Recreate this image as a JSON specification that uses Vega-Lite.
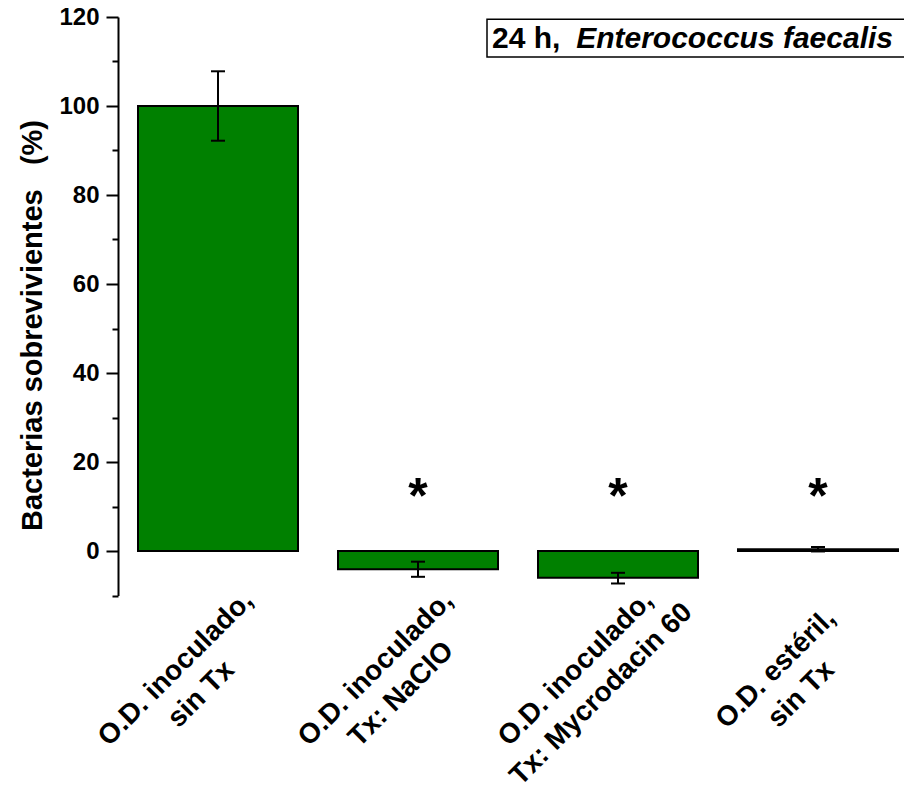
{
  "$schema": "https://vega.github.io/schema/vega-lite/v6.json",
  "width": 800,
  "height": 578.5,
  "autosize": {"type": "none"},
  "padding": {"left": 118, "top": 17, "right": 0, "bottom": 200},
  "background": "white",
  "config": {"view": {"stroke": null}, "font": "Liberation Sans"},
  "data": {
    "values": [
      {"cat": "O.D. inoculado,|sin Tx", "v": 100, "lo": 92.2, "hi": 107.8, "star": ""},
      {"cat": "O.D. inoculado,|Tx: NaClO", "v": -4.1, "lo": -5.8, "hi": -2.4, "star": "*"},
      {"cat": "O.D. inoculado,|Tx: Mycrodacin 60", "v": -6.0, "lo": -7.3, "hi": -4.9, "star": "*"},
      {"cat": "O.D. estéril,|sin Tx", "v": 0.4, "lo": -0.1, "hi": 0.9, "star": "*"}
    ]
  },
  "encoding": {
    "x": {
      "field": "cat",
      "type": "nominal",
      "sort": null,
      "scale": {
        "domain": ["O.D. inoculado,|sin Tx", "O.D. inoculado,|Tx: NaClO", "O.D. inoculado,|Tx: Mycrodacin 60", "O.D. estéril,|sin Tx"],
        "paddingInner": 0.2,
        "paddingOuter": 0.1
      },
      "axis": {
        "title": null,
        "domain": false,
        "ticks": false,
        "labelAngle": -45,
        "labelAlign": "center",
        "labelBaseline": "middle",
        "labelOffset": -42,
        "labelPadding": 73,
        "labelExpr": "split(datum.label, '|')",
        "labelFontSize": 28,
        "labelFontWeight": "bold",
        "labelColor": "black",
        "labelLineHeight": 36,
        "labelLimit": 0,
        "labelOverlap": false,
        "labelBound": false,
        "labelFlush": false
      }
    }
  },
  "layer": [
    {
      "mark": {"type": "bar", "fill": "#008000", "stroke": "black", "strokeWidth": 2},
      "encoding": {
        "y": {
          "field": "v",
          "type": "quantitative",
          "scale": {"domain": [-10, 120], "nice": false, "zero": false},
          "axis": {
            "values": [-10, 0, 10, 20, 30, 40, 50, 60, 70, 80, 90, 100, 110, 120],
            "labelExpr": "datum.value >= 0 && datum.value % 20 === 0 ? datum.label : ''",
            "tickSize": {"condition": {"test": "datum.value % 20 === 0", "value": 12}, "value": 6},
            "tickWidth": 2,
            "tickColor": "black",
            "domainWidth": 2,
            "domainColor": "black",
            "grid": false,
            "labelFontSize": 24,
            "labelFontWeight": "bold",
            "labelColor": "black",
            "labelPadding": 7,
            "title": "Bacterias sobrevivientes\u00a0\u00a0\u00a0(%)",
            "titleFontSize": 29,
            "titleFontWeight": "bold",
            "titleColor": "black",
            "titlePadding": 11,
            "titleY": 308
          }
        }
      }
    },
    {
      "mark": {"type": "rule", "stroke": "black", "strokeWidth": 2},
      "encoding": {"y": {"datum": 0}}
    },
    {
      "mark": {"type": "rule", "stroke": "black", "strokeWidth": 2},
      "encoding": {
        "y": {"field": "lo", "type": "quantitative"},
        "y2": {"field": "hi"}
      }
    },
    {
      "mark": {"type": "tick", "orient": "horizontal", "size": 14, "thickness": 2, "color": "black", "opacity": 1},
      "encoding": {"y": {"field": "lo", "type": "quantitative"}}
    },
    {
      "mark": {"type": "tick", "orient": "horizontal", "size": 14, "thickness": 2, "color": "black", "opacity": 1},
      "encoding": {"y": {"field": "hi", "type": "quantitative"}}
    },
    {
      "mark": {"type": "text", "fontSize": 50, "fontWeight": "bold", "color": "black", "baseline": "alphabetic", "align": "center"},
      "encoding": {
        "y": {"datum": 8.5},
        "text": {"field": "star"}
      }
    },
    {
      "data": {"values": [{"a": 1}]},
      "mark": {"type": "rect", "fill": "white", "stroke": "black", "strokeWidth": 1.5, "xOffset": -51, "x2Offset": 100},
      "encoding": {
        "x": {"datum": "O.D. inoculado,|Tx: Mycrodacin 60", "bandPosition": 0},
        "x2": {"datum": "O.D. estéril,|sin Tx"},
        "y": {"datum": 119.5},
        "y2": {"datum": 111}
      }
    },
    {
      "data": {"values": [{"a": 1}]},
      "mark": {"type": "text", "fontSize": 30, "fontWeight": "bold", "color": "black", "align": "left", "baseline": "alphabetic", "dx": -46},
      "encoding": {
        "x": {"datum": "O.D. inoculado,|Tx: Mycrodacin 60", "bandPosition": 0},
        "y": {"datum": 113},
        "text": {"value": "24 h,"}
      }
    },
    {
      "data": {"values": [{"a": 1}]},
      "mark": {"type": "text", "fontSize": 30, "fontWeight": "bold", "fontStyle": "italic", "color": "black", "align": "right", "baseline": "alphabetic", "dx": -5},
      "encoding": {
        "x": {"datum": "O.D. estéril,|sin Tx", "bandPosition": 1},
        "y": {"datum": 113},
        "text": {"value": "Enterococcus faecalis"}
      }
    }
  ]
}
